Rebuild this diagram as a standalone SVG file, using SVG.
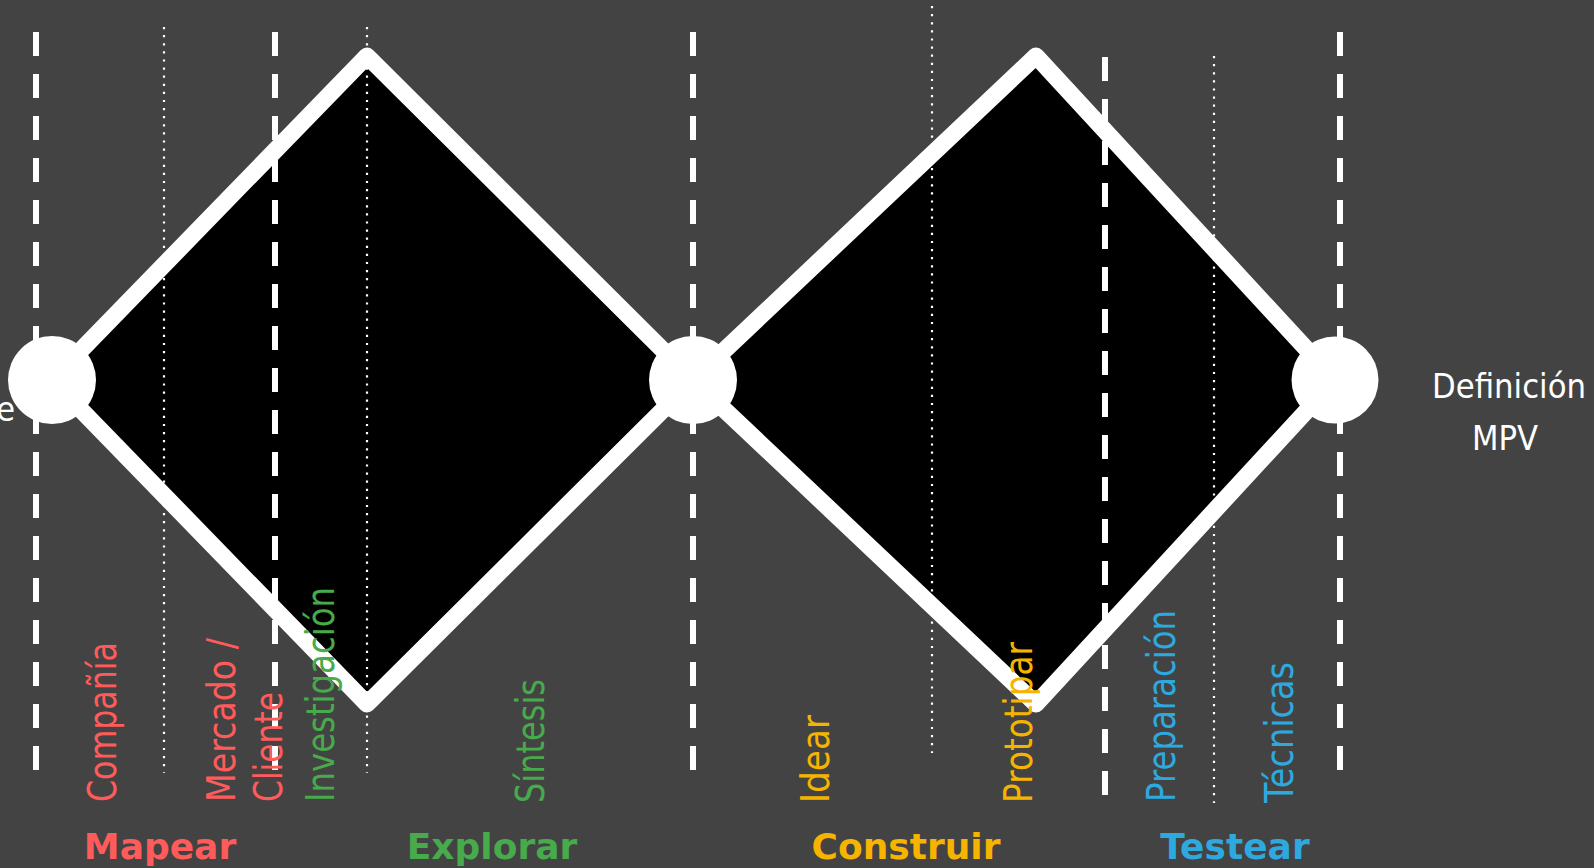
<svg xmlns="http://www.w3.org/2000/svg" width="1594" height="868" viewBox="0 0 1594 868">
<style>
.dash{stroke:#fff;stroke-width:6;stroke-dasharray:24 18;fill:none}
.dot{stroke:#fff;stroke-width:2.2;stroke-dasharray:2.2 5.9;fill:none}
.dia{fill:#000;stroke:#fff;stroke-width:17;stroke-linejoin:round}
.node{fill:#fff}
.lbl{font-family:'DejaVu Sans','Noto Sans',sans-serif;font-size:39px}
.hd{font-family:'DejaVu Sans','Noto Sans',sans-serif;font-size:36px;font-weight:bold;text-anchor:middle}
.wt{font-family:'DejaVu Sans Condensed','DejaVu Sans',sans-serif;font-size:34px;fill:#fff}
.red{fill:#ff5b5b}.grn{fill:#47aa4b}.yel{fill:#f5b400}.blu{fill:#2ea9df}
</style>
<rect width="1594" height="868" fill="#434343"/>
<g id="diamond-1"><polygon class="dia" points="52,380 367,56 693,380 367,704"/></g>
<g id="diamond-2"><polygon class="dia" points="693,380 1036,56 1335,380 1036,704"/></g>
<g id="connectors">
<line class="dash" x1="36" y1="32" x2="36" y2="770"/>
<line class="dash" x1="275" y1="32" x2="275" y2="770"/>
<line class="dash" x1="693" y1="32" x2="693" y2="770"/>
<line class="dash" x1="1105" y1="57" x2="1105" y2="795"/>
<line class="dash" x1="1340" y1="32" x2="1340" y2="770"/>
<line class="dot" x1="164" y1="27" x2="164" y2="773"/>
<line class="dot" x1="367" y1="27" x2="367" y2="773"/>
<line class="dot" x1="932" y1="6" x2="932" y2="753"/>
<line class="dot" x1="1214" y1="56" x2="1214" y2="803"/>
</g>
<g id="node-start"><circle class="node" cx="52" cy="380" r="44"/></g>
<g id="node-mid"><circle class="node" cx="693" cy="380" r="44"/></g>
<g id="node-end"><circle class="node" cx="1335" cy="380" r="43.5"/></g>
<g id="label-left"><text class="wt" x="15" y="421" text-anchor="end">e</text></g>
<g id="label-right">
<text class="wt" x="1509" y="398" text-anchor="middle" textLength="154" lengthAdjust="spacingAndGlyphs">Definición</text>
<text class="wt" x="1505" y="450" text-anchor="middle" textLength="66" lengthAdjust="spacingAndGlyphs">MPV</text>
</g>
<g id="labels-mapear">
<text class="lbl red" transform="translate(116,802) rotate(-90)" textLength="160" lengthAdjust="spacingAndGlyphs">Compañía</text>
<text class="lbl red" transform="translate(235,802) rotate(-90)" textLength="164" lengthAdjust="spacingAndGlyphs">Mercado /</text>
<text class="lbl red" transform="translate(282,802) rotate(-90)" textLength="110" lengthAdjust="spacingAndGlyphs">Cliente</text>
<text class="hd red" x="160" y="859">Mapear</text>
</g>
<g id="labels-explorar">
<text class="lbl grn" transform="translate(334,802) rotate(-90)" textLength="215" lengthAdjust="spacingAndGlyphs">Investigación</text>
<text class="lbl grn" transform="translate(544,803) rotate(-90)" textLength="124" lengthAdjust="spacingAndGlyphs">Síntesis</text>
<text class="hd grn" x="492" y="859">Explorar</text>
</g>
<g id="labels-construir">
<text class="lbl yel" transform="translate(829,803) rotate(-90)" textLength="88" lengthAdjust="spacingAndGlyphs">Idear</text>
<text class="lbl yel" transform="translate(1032,803) rotate(-90)" textLength="161" lengthAdjust="spacingAndGlyphs">Prototipar</text>
<text class="hd yel" x="906" y="859">Construir</text>
</g>
<g id="labels-testear">
<text class="lbl blu" transform="translate(1175,802) rotate(-90)" textLength="192" lengthAdjust="spacingAndGlyphs">Preparación</text>
<text class="lbl blu" transform="translate(1293,803) rotate(-90)" textLength="141" lengthAdjust="spacingAndGlyphs">Técnicas</text>
<text class="hd blu" x="1235" y="859">Testear</text>
</g>
</svg>
